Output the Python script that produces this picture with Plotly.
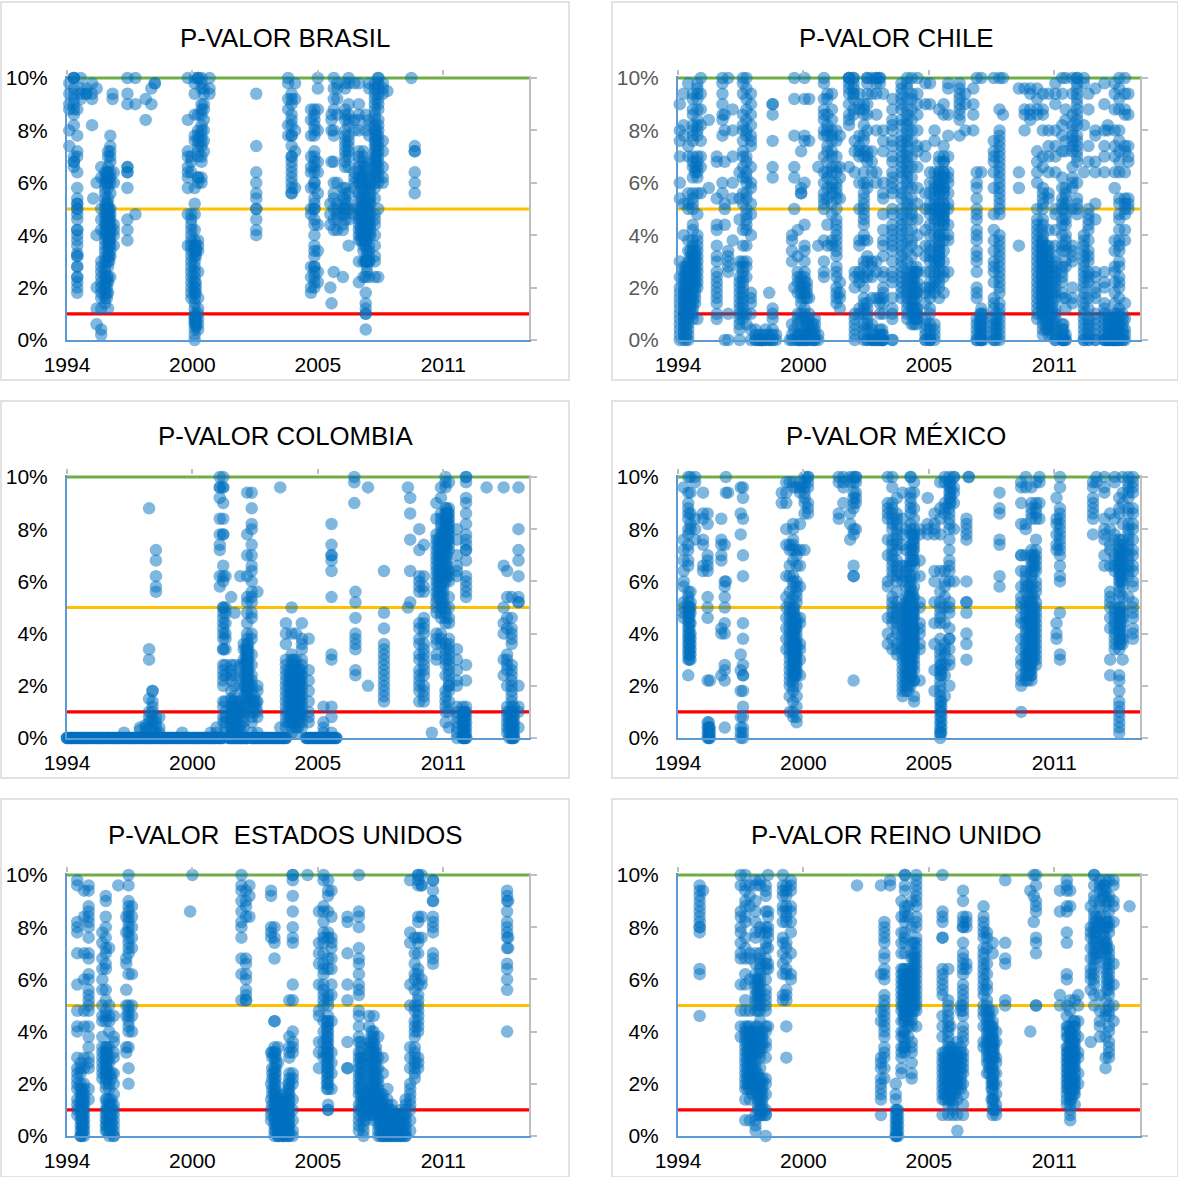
import plotly.graph_objects as go

TITLES = ["P-VALOR BRASIL", "P-VALOR CHILE", "P-VALOR COLOMBIA", "P-VALOR MÉXICO",
          "P-VALOR  ESTADOS UNIDOS", "P-VALOR REINO UNIDO"]
TICK_YEARS = [1994, 1999.5, 2005, 2010.5]
TICK_LABELS = ["1994", "2000", "2005", "2011"]
Y_TICKS = [0, 2, 4, 6, 8, 10]
Y_LABELS = ["0%", "2%", "4%", "6%", "8%", "10%"]
X_END = 2014.26
THRESHOLDS = [10, 5, 1]

BRASIL = [
 (1994.1,[9.8,9.4,9.0,8.8,8.0,7.4]),
 (1994.3,[10,10,10,9.6,9.4,9.2,9.0,8.8,8.6,8.2,7.0,6.8,6.8,6.6]),
 (1994.45,[8.8,7.8,7.2,7.0,6.4,5.8,5.4,5.2,5.2,5.0,5.0,4.8,4.6,4.2,4.2,4.0,3.8,3.6,3.3,3.2,3.2,2.8,2.8,2.4,2.4,2.2,2.0,1.8]),
 (1994.6,[10,9.6,9.4,9.2]),(1994.85,[9.6,9.4,9.4]),(1995.1,[9.8,9.4,9.2,8.2]),(1995.3,[9.6]),(1995.15,[5.4]),
 (1995.3,[0.6,1.2,2.0,4.0,6.0]),
 (1995.5,[0.4,0.2,1.2,1.6,1.8,2.0,2.2,2.4,2.6,2.8,3.0,4.2,4.6,5.0,6.2,6.6]),
 (1995.67,[1.4,1.6,1.8,2.0,2.2,2.4,2.6,2.8,3.0,3.2,3.4,3.6,3.8,4.0,4.2,4.4,4.6,4.8,5.0,5.2,5.4,5.6,5.8,6.0,6.2,6.4]),
 (1995.8,[1.2,1.8,2.2,2.4,2.8,3.0,3.2,3.4,3.6,3.8,4.0,4.2,4.4,4.6,4.8,5.0,5.2,5.4,5.8,6.0,6.2,6.4,6.6,7.0,7.2]),
 (1995.9,[2.4,3.2,3.4,3.6,3.8,4.0,4.2,4.4,4.6,4.8,5.0,5.6,6.0,6.2,6.4,6.8,7.0,7.2,7.4,7.8]),
 (1996.05,[3.6,4.0,4.2,4.4,6.0,6.4]),(1996.0,[9.2,9.4]),
 (1996.65,[3.8,4.2,4.6,5.8,6.4,6.4,6.6,6.6,9.0,9.4,10]),(1997.0,[4.8,9.0,10]),
 (1997.45,[8.4,9.2]),(1997.7,[9.6,9.0]),(1997.85,[9.8,9.8]),
 (1999.3,[3.6,4.8,5.8,6.2,6.4,6.6,7.0,7.2,8.4,10]),
 (1999.45,[1.6,1.8,2.0,2.2,2.4,2.6,2.8,3.0,3.2,3.4,3.6,3.8,4.0,4.2,4.4,4.6,4.8,6.4,6.8,7.0]),
 (1999.6,[0,0.2,0.4,0.6,0.7,0.8,0.9,1.0,1.2,1.4,1.6,1.8,2.0,2.2,2.4,2.6,2.8,3.0,3.2,3.4,3.6,3.8,4.2,4.8,5.2,5.8,7.6,7.8,10,9.8,9.4,8.6]),
 (1999.75,[0.4,0.6,0.8,1.0,1.2,1.6,2.6,3.4,3.6,3.8,6.0,6.2,6.2,7.0,7.2,7.4,7.6,7.8,8.0,8.6,10,10]),
 (1999.9,[6.0,6.2,6.8,7.0,7.4,7.6,7.8,8.0,8.2,8.6,8.8,9.0,9.6,9.8,10]),
 (2000.0,[7.2,7.6,8.0,8.4,8.8,9.0,9.6,9.4]),(2000.25,[9.4,9.6,10]),
 (2002.3,[9.4,7.4,6.4,6.0,5.6,5.4,5.0,5.0,4.6,4.2,4.0]),
 (2003.7,[8.8,9.2,9.8,10,8.2,7.8]),(2003.85,[9.4,9.2,9.0,8.6,8.4,8.2,7.8,7.8,7.4,7.0,7.0,6.8,6.6,6.4,6.2,6.0,5.8,5.6,5.6]),
 (2004.0,[9.8,9.2,8.0,7.2,5.8]),
 (2004.7,[8.8,8.4,7.8,7.0,6.6,6.4,5.8,5.0,4.8,2.8,2.4,2.0,1.8]),
 (2004.85,[8.8,8.6,8.4,8.2,8.0,7.8,7.2,7.0,6.8,6.6,6.4,6.0,6.0,5.8,5.4,5.2,5.0,5.0,4.6,4.4,4.0,3.6,3.4,3.2,2.8,2.8,2.6,2.4,2.2,2.0]),
 (2005.0,[10,9.6,8.8,8.0,6.8,6.4,5.6,4.4,3.4,2.6,2.2]),
 (2005.55,[5.2,4.8,4.4,2.0]),(2005.6,[6.8,8.0,8.4,8.6,1.4]),
 (2005.7,[10,9.6,9.2,8.8,8.0,7.8,6.8,6.0,5.6,5.4,5.0,4.6,4.2,2.6]),
 (2005.85,[9.8,9.6,9.2,8.6,6.0,5.2,5.0,4.8,4.6,4.2]),
 (2006.1,[5.8,5.4,5.0,4.8,4.4,4.2,2.4]),
 (2006.2,[9.8,9.6,8.8,8.6,8.4,8.0,7.8,7.6,7.4,7.2,7.0,6.8,6.6,5.8,5.6,5.4,5.2,5.0,4.8,4.6]),
 (2006.35,[10,9.8,9.0,8.6,8.4,8.2,7.8,7.6,7.4,7.2,7.0,6.6,5.6,5.2,5.0,4.6,3.6]),
 (2006.6,[9.8,8.4,8.0,6.4,6.2,6.0,5.8,5.0,4.8]),
 (2006.8,[9.8,9.0,8.6,8.4,8.0,7.2,7.0,6.8,6.6,6.4,6.2,6.0,5.6,5.4,5.0,4.8,4.6,4.4,4.2,4.0,3.8,3.0,2.2]),
 (2007.0,[7.2,7.0,6.8,6.6,6.4,6.2,6.0,5.8,5.6,5.4,5.2,5.0,4.8,4.6,4.4,4.2,4.0,3.8,3.6,3.4,3.0,2.4]),
 (2007.1,[8.6,8.0,6.6,6.4,5.8,5.4,5.2,5.0,4.8,4.6,4.4,4.2,4.0,3.8,3.6,3.0,3.0,2.4,1.8,1.4,1.2,1.0,1.0,0.4]),
 (2007.25,[9.8,9.6,8.4,8.2,7.8,6.8,6.2,5.8,5.4,5.2,5.0,4.8,4.6,4.4,4.0,3.6,3.4,3.2,3.0,3.0,2.4]),
 (2007.5,[9.8,9.6,9.4,9.2,9.0,8.8,8.6,8.4,8.2,8.0,7.8,7.6,7.4,7.2,7.0,6.8,6.6,6.4,6.2,6.0,5.8,5.4,4.8,4.6,4.4,4.0,3.6,3.2,3.0,2.4]),
 (2007.65,[10,10,9.8,9.6,9.4,9.2,9.0,8.8,8.4,8.2,8.0,7.8,7.6,7.4,7.2,7.0,6.8,6.6,6.4,6.2,6.0,5.0,2.4]),
 (2007.85,[9.8,9.6,9.4,7.6,7.2,6.6,6.2,6.0]),(2008.05,[9.5]),
 (2009.1,[10]),(2009.25,[7.4,7.2,7.2,6.4,6.0,5.6]),
]
BRASIL_EXTRA = [
 (1995.75,[4.0,4.2,4.4,4.6,4.8,5.0,5.2,6.0,6.2,6.4,1.6,1.8,2.0,2.2,2.4]),
 (1995.85,[3.6,3.8,4.0,4.2,4.4,4.6,4.8,5.0,3.0,3.2]),
 (1999.65,[0.5,0.6,0.7,0.8,0.9,2.0,2.2,1.8,3.2,3.4,3.6,3.4]),
 (2006.9,[5.0,5.2,5.4,4.8,4.6,4.4,4.2,4.0,3.8,6.0,6.2,5.8]),
 (2007.15,[5.2,5.0,4.8,4.6,4.4,4.2,4.0,3.8,3.4,3.2,3.0,3.0,2.8,2.6]),
 (2007.3,[6.2,6.0,5.8,5.6,5.4,5.2,4.8,4.4,4.2,4.0]),
 (2007.55,[8.0,7.8,7.6,7.4,7.2,7.0,6.8,6.6,6.4]),
]

CHILE = [
 (1994.08,[9.0,8.0,7.6,7.0,6.0,5.4,3.0,2.4,2.0,1.8,1.6,1.4,1.2,1.0,0.8,0.6,0.4,0.2,0]),
 (1994.25,[9.4,8.2,7.8,5.2,4.0,2.8,2.6,2.4,2.2,2.0,1.8,1.6,1.4,1.2,1.0,0.8,0.6,0.4,0.2,0]),
 (1994.45,[9.8,7.4,7.0,5.6,5.2,5.0,3.8,3.4,3.0,2.8,2.6,2.4,2.2,2.0,1.8,1.6,1.4,1.2,1.0,0.8,0.6,0.4,0.2,0]),
 (1994.65,[9.4,9.2,8.8,8.6,8.2,8.0,7.8,7.6,7.0,6.8,6.6,6.2,5.6,5.4,5.2,5.0,4.4,4.2,3.8,3.6,3.4,3.2,3.0,2.8,2.6,2.4,2.2,2.0,1.8,1.6,1.4,1.2,1.0,0.8]),
 (1994.85,[9.8,9.6,9.4,9.2,8.8,8.4,8.2,8.0,7.8,7.0,6.8,6.6,6.4,6.2,5.6,4.8,4.0,3.8,3.6,3.4,3.2,3.0,2.8,2.6,2.4,2.2,2.0,0.8]),
 (1995.0,[10,9.4,8.8,8.2,7.6,7.0,6.6,5.6]),(1995.35,[8.4,5.8]),(1995.7,[7.0,6.8,5.4,4.4,4.2,3.6,3.2,3.0,2.6,2.4,2.2,2.0,1.8,1.6,1.4,1.0,0.8]),
 (1995.95,[10,9.8,9.4,9.0,8.6,8.4,7.8,6.0,5.6]),(1996.05,[8.6,8.0,6.8,5.2,5.0,4.4,0]),(1996.2,[10,3.4,3.2,3.0,2.8,2.6,1.0,0]),
 (1996.4,[8.8,8.0,7.0,6.0,5.4,3.8]),(1996.7,[6.4,5.4,4.6,3.0,2.8,2.4,2.2,2.0,1.8,1.6,1.4,1.2,1.0,0.8,0.6,0.4,0]),
 (1996.85,[10,9.8,9.4,8.6,8.2,8.0,7.6,7.2,7.0,6.6,6.2,5.6,5.2,4.2,3.6,3.0,2.8,2.6,2.4,2.2,2.0,1.8,1.6,1.4,1.2,1.0,0.8]),
 (1997.0,[10,9.6,9.2,8.8,8.4,8.0,7.8,7.0,6.8,6.4,6.2,6.0,5.6,5.4,5.0,4.8,4.6,4.4,4.2,3.6,3.0,2.8,2.4,1.0,0.6]),
 (1997.2,[9.4,9.0,8.6,8.2,7.8,7.6,7.4,6.6,6.0,5.8,5.2,4.8,4.0,1.8,1.6,1.4,1.0,0.4,0]),
 (1997.4,[0,0,0.2,0.4]),(1997.55,[0,0,0.2]),(1997.7,[0,0,0.2]),(1997.85,[0,0,0.2,0.4]),(1998.0,[0,0,0.2,1.8]),
 (1998.15,[0,0,0.2,0.4,0.8,1.0,1.2,6.2,6.6,8.6,9.0,9.0,7.6]),(1998.3,[0,0.2]),
 (1998.9,[0]),(1999.0,[0,0.2,0.6,3.0,3.4,3.8,4.0]),(1999.1,[0,0.4,2.0,6.2,6.6,7.8,9.2,10,5.0]),
 (1999.25,[0,0.2,0.6,0.8,1.0,1.8,2.2,2.4,2.6,3.2,4.2]),(1999.4,[0,0,0.2,0.4,0.8,1.0,1.4,1.6,1.8,2.0,2.2,2.4,5.6,5.6,5.8,7.2]),
 (1999.55,[0,0,0.2,0.4,0.8,1.0,1.2,1.6,1.8,2.0,2.2,2.4,2.6,3.0,3.4,3.6,4.4,6.0,7.8,9.2,10,7.6]),
 (1999.75,[0,0.2,0.4,0.6,0.8,1.0,1.6,7.6,9.2]),(2000.0,[0,0,0.2,0.4,0.6,0.8]),(2000.15,[0,0.2,3.6,6.6]),
 (2000.4,[2.4,2.6,3.0,3.8,5.0,5.2,5.4,5.6,6.0,6.4,7.0,7.8,8.0,8.4,8.6,8.8,9.2,9.8,10]),
 (2000.55,[3.6,4.4,5.4,5.8,6.2,6.4,6.8,7.2,7.4,7.8,8.0,8.2,8.6,9.2,9.4]),
 (2000.75,[3.6,3.8,4.8,5.2,5.6,5.8,6.0,6.4,6.6,7.0,7.2,7.6,7.8,8.0,8.4,8.8,9.4]),
 (2000.95,[1.4,1.6,1.8,2.0,2.4,2.6,2.8,3.2,3.4,3.6,3.8,4.0,4.2,4.4,4.6,5.0,5.4,5.6,5.8,6.0,6.4,6.6,7.0,7.6,8.0]),
 (2001.1,[1.2,1.6,1.8,2.2,5.4,6.2,6.6,7.8]),(2001.5,[9.0,9.4,9.6,9.8,10,10,10,6.6,8.2,8.4,8.6]),
 (2001.7,[9.4,9.6,9.8,10,10,9.4,9.2,8.8,8.6]),(2001.75,[0,0.2,0.4,0.6,0.8,1.0,2.0,2.4,2.6,7.6,7.2,6.4]),
 (2001.95,[9.4,9.0,8.8,7.8,7.4,7.2,7.0,6.0,5.0,3.8,3.6,2.6,2.4,2.2,1.2,1.0]),
 (2002.15,[9.0,8.8,8.6,8.2,7.8,7.6,7.2,7.0,6.4,6.0,5.6,5.4,5.2,5.0,4.8,4.6,4.4,4.0,3.8,3.0,2.8,2.4,2.0,1.6,1.4,1.2,1.0,0.6,0.4,0.2,0]),
 (2002.3,[10,10,9.8,9.4,9.0,8.6,8.0,7.2,7.0,6.8,6.0,5.8,3.8,3.2,3.0,2.6,2.4,1.4,1.2,1.0,0.8,0.6,0.4,0,0]),
 (2002.5,[10,9.4,7.2,6.8,6.4,3.0,2.8,2.4,1.6,0.6,0.4,0,0]),(2002.7,[10,10,9.8,9.4,8.6,8.0,6.4,6.0,3.0,2.6,1.6,0,0,0.2]),
 (2002.85,[10,10,9.8,0,0,0.2,0.4,1.0,1.4,1.6]),(2003.0,[9.4,8.0,7.6,7.2,6.0,5.6,5.4,4.8,4.2,3.8,3.6,3.2,2.6,2.4,2.0,1.8,1.6,1.4,1.0,0,0,0.2]),
 (2003.4,[9.2,8.8,8.4,8.2,8.0,7.6,7.4,7.0,6.8,6.4,6.2,6.0,5.8,5.6,5.0,4.8,4.4,4.2,4.0,3.8,3.6,3.4,3.0,2.6,2.4,2.2,1.6,1.2,1.0,0.8,0,0]),
 (2003.8,[9.8,9.6,9.4,9.2,9.0,8.8,8.4,8.2,7.8,7.6,7.4,7.2,7.0,6.8,6.6,6.4,6.2,5.8,5.6,5.4,5.0,4.8,4.6,4.4,4.2,4.0,3.8,3.6,3.4,3.2,3.0,2.8,2.6,2.4,2.2,2.0,1.8,1.6]),
 (2004.05,[10,9.8,9.6,9.2,8.8,8.6,8.4,8.2,8.0,7.8,7.6,7.4,7.2,7.0,6.8,6.6,6.4,6.2,6.0,5.8,5.4,5.2,5.0,4.6,4.2,3.8,3.4,3.0,2.6,2.4,2.2,2.0,1.8,1.6,1.4,1.2,1.0,0.8]),
 (2004.25,[10,9.4,9.2,8.8,8.4,8.0,7.6,7.0,6.6,6.2,5.8,5.4,5.0,4.8,4.6,4.2,3.8,3.6,3.2,2.8,2.6,2.4,2.2,2.0,1.8,1.6,1.4,1.2,1.0,0.6]),
 (2004.5,[10,9.4,9.0,8.6,8.0,7.4,7.2,6.6,5.8,5.2,4.6,4.0,3.4,2.6,2.2,1.8,1.2,1.0,0.8]),(2004.85,[9.8,9.0,7.4,7.0,5.6,5.0,4.2,3.6,3.2,2.6,2.0,1.8,1.4,0.8,0.6,0.4,0.2,0,0]),
 (2005.05,[9.8,9.0,6.4,6.0,5.6,5.2,5.0,4.8,4.4,4.0,3.6,3.4,3.2,3.0,2.6,2.2,2.0,1.8,1.6,1.2,1.0,0.6,0.4,0.2,0,0,0]),
 (2005.25,[8.0,7.6,6.4,6.0,5.8,5.6,5.4,5.2,5.0,4.8,4.6,4.4,4.0,3.6,3.2,3.0,2.8,2.6,2.4,2.2,2.0,1.8,0.6,0.4,0.2,0]),
 (2005.45,[8.8,7.0,6.8,6.4,6.2,6.0,5.8,5.6,5.2,5.0,4.8,4.4,4.0,3.6,3.4,3.2,3.0,2.8,2.6,2.4,2.2,2.0,1.6]),
 (2005.65,[9.0,8.6,7.4,7.0,6.8,6.4,6.2,6.0,5.8,5.6,5.2,5.0,4.8,4.6,4.4,4.0,3.8,3.4,3.0,2.6,2.4,1.8]),
 (2005.85,[9.8,9.6,8.6,7.8,7.0,6.4,6.2,6.0,5.6,5.2,5.0,4.4,4.0,3.8,2.6]),
 (2006.35,[9.8,9.6,9.4,9.2,9.0,8.8,8.6,8.4,7.8]),(2006.6,[9.4,9.0,8.0]),
 (2006.95,[9.6,9.0,8.6,8.0]),
 (2007.1,[10,6.4,6.0,5.8,5.4,5.0,4.8,4.6,4.2,4.0,3.8,3.4,3.2,3.0,2.6,2.0,1.8,1.6,0.8,0.6,0.4,0.2,0,0]),
 (2007.3,[10,6.4,1.2,1.0,0.8,0.6,0.4,0.2,0,0,0]),(2007.85,[10,7.6,7.2,7.0,6.8,6.4,5.8,4.8,4.2,3.8,3.4,3.0,2.8,2.6,2.2,1.6,1.4,1.2,0.8,0.6,0.4,0.2,0,0]),
 (2008.1,[10,8.8,8.0,7.8,7.6,7.4,7.2,7.0,6.8,6.6,6.4,6.2,6.0,5.8,5.6,5.4,5.2,5.0,4.8,4.0,3.8,3.6,3.4,3.2,3.0,2.8,2.6,2.4,2.2,2.0,1.8,1.4,1.2,1.0,0.8,0.6,0.4,0.2,0]),
 (2008.25,[10,8.6]),(2008.95,[9.6,6.4,5.8,3.6]),(2009.2,[9.6,8.8,8.6,8.0]),
 (2009.45,[9.6,9.4,8.8,8.6,8.4]),(2009.75,[9.6,9.2,8.8,8.6,7.2,6.8,6.4,6.0,5.0,4.6,4.4,4.2,4.0,3.8,3.6,3.4,3.2,3.0,2.8,2.6,2.4,2.2,2.0,1.8,1.6,1.4,1.2,1.0,0.8]),
 (2010.0,[9.4,8.8,8.6,8.0,7.0,6.6,5.8,5.6,5.4,5.2,5.0,4.6,4.4,4.0,3.8,3.6,3.4,3.2,3.0,2.8,2.6,2.4,2.2,2.0,1.8,1.6,1.4,1.2,1.0,0.8,0.6,0.4,0.2]),
 (2010.25,[9.4,8.0,7.4,7.0,6.4,5.6,5.4,4.2,3.6,3.4,3.2,3.0,2.8,2.6,2.4,2.2,2.0,1.8,1.6,1.4,1.2,1.0,0.8,0.6,0.4,0.2]),
 (2010.55,[9.8,9.4,9.0,8.0,7.4,7.0,6.4,5.0,4.8,4.2,3.6,3.2,3.0,2.8,2.6,2.4,2.2,2.0,1.8,1.6,1.2,1.0,0.8,0.6,0.4,0.2,0,0]),
 (2010.85,[10,9.4,8.2,7.8,7.2,6.2,5.8,5.4,5.2,5.0,4.6,4.4,4.0,3.6,3.4,2.8,2.6,2.4,2.2,1.8,1.6,0.6,0.4,0.2,0,0]),
 (2011.0,[10,8.8,8.4,7.6,7.2,5.8,5.6,5.4,5.2,5.0,4.8,4.6,4.4,4.0,3.8,3.6,3.4,3.0,2.8,1.6,1.2,0.2,0,0]),
 (2011.3,[10,9.4,8.6,8.2,8.0,7.8,7.6,7.4,7.2,6.6,6.2,6.0,5.8,5.0,3.6,3.4,3.2,3.0,2.0,1.6,1.4]),
 (2011.5,[10,10,9.8,9.6,9.4,9.2,9.0,8.8,8.6,8.4,8.2,7.8,7.6,7.4,7.2,7.0,6.8,6.0,5.4,5.2,5.0,4.8]),
 (2011.8,[10,9.8,8.2,6.4,4.0,3.8,3.6,3.4,3.2,3.0,2.8,2.6,2.4,2.2,2.0,1.8,1.6,1.4,1.2,1.0,0.8,0.6,0.4,0.2,0,0]),
 (2012.0,[9.4,8.8,7.4,6.8,5.0,4.8,4.6,4.4,4.2,3.8,3.4,3.2,3.0,2.6,2.4,2.2,1.6,1.2,0.8,0.6,0.4,0.2,0,0]),
 (2012.3,[9.6,8.0,7.8,6.8,6.4,5.2,4.6,2.6,2.4,2.0,1.8,1.6,1.0,0.8,0.6,0.4,0.2,0,0]),
 (2012.7,[9.8,9.0,8.0,7.4,7.0,6.4,2.6,2.2,2.0,1.4,1.2,1.0,0.8,0.6,0.4,0.2,0,0,0]),
 (2012.85,[8.0,8.2,1.0,0.8,0.6,0.4,0.2,0,0,0]),(2013.15,[9.8,9.4,8.8,8.0,7.4,7.0,6.4,5.8,3.8,3.4,2.8,2.6,2.2,1.8,1.4,1.0,0.8,0.6,0.4,0.2,0,0,0]),
 (2013.35,[10,9.6,9.2,8.8,8.0,7.6,7.2,6.8,6.4,5.4,5.2,4.8,4.6,4.2,3.8,3.6,3.4,3.0,2.8,2.4,2.2,2.0,1.6,1.2,1.0,0.8,0.6,0.4,0.2,0,0]),
 (2013.6,[10,9.4,8.8,8.6,7.4,7.2,6.4,5.4,5.2,5.0,4.8,4.2,3.8,1.4,0.8,0.4,0.2,0]),(2013.75,[9.4,8.6,7.4,7.0,6.8,5.4,5.2,5.0]),
]
CHILE_EXTRA = [
 (1994.35,[2.8,2.6,2.4,2.2,2.0,1.8,1.6,1.4,1.2,1.0,0.8,0.6,0.4,0.2,0]),
 (1994.55,[2.8,2.6,2.4,2.2,2.0,1.8,1.6,1.4,1.2,1.0,3.0,3.2,3.4]),
 (1994.75,[2.8,2.6,2.4,2.2,2.0,1.8,1.6,1.4,3.0,3.2,3.4,6.6,6.4]),
 (1997.65,[0,0]),(1999.3,[0,0,0.2]),(1999.65,[0,0,0.2,0.4,0.6,0.8,1.6,1.8,2.0,2.2]),(1999.9,[0,0,0.2,0.4,0.6]),
 (2002.6,[0,0,0.2]),(2002.95,[0,0,0.2,0.4]),
 (2005.45,[6.4,6.2,6.0,5.8,5.6,5.2,5.0,4.8,4.6,4.2,4.0,3.8,3.6,3.4,3.2,3.0]),
 (2005.65,[6.8,6.4,6.2,5.8,5.6,5.2,5.0,4.8,4.6,4.4]),
 (2004.35,[1.0,0.8,1.2,1.4,1.6,1.8,2.0,2.2,2.4,2.6,0.6]),
 (2004.45,[2.0,1.8,1.6,1.2,1.0,0.8,0.6,2.6,2.8]),
 (2007.25,[1.0,0.8,0.6,0.4,0.2,0]),(2007.4,[1.0,0.8,0.6,0.4,0.2,0]),
 (2007.95,[1.0,0.8,0.6,0.4,0.2,0]),
 (2009.95,[4.2,3.8,3.6,3.4,3.2,3.0,2.8,2.6,2.4,2.2,2.0,1.8,1.6,1.4,1.2,1.0]),
 (2010.15,[3.6,3.4,3.2,3.0,2.8,2.6,2.4,2.2,2.0,1.8,1.6,1.4,1.2,1.0,0.8,0.6,0.4]),
 (2010.4,[2.8,2.6,2.4,2.2,2.0,1.8,1.6,1.4,1.2,1.0,0.8,0.6,0.4,0.2]),
 (2010.9,[0.6,0.4,0.2,0,0]),
 (2012.95,[0.8,0.6,0.4,0.2,0,0]),(2013.05,[0.6,0.4,0.2,0,0]),(2013.25,[0.8,0.6,0.4,0.2,0,0,1.0]),(2013.5,[1.0,0.8,0.6,0.4,0.2,0,0]),
]

COLOMBIA_ZERO_X = [1994.0,1994.1,1994.2,1994.3,1994.4,1994.5,1994.6,1994.7,1994.8,1994.9,1995.0,1995.1,1995.2,1995.3,1995.4,1995.5,1995.6,1995.7,1995.8,1995.9,
 1996.0,1996.1,1996.2,1996.3,1996.4,1996.5,1996.6,1996.7,1996.8,1996.9,1997.0,1997.1,1997.2,1997.3,1997.4,1997.5,1997.6,1997.7,1997.8,1997.9,
 1998.0,1998.1,1998.2,1998.3,1998.4,1998.5,1998.6,1998.7,1998.8,1998.9,1999.0,1999.1,1999.2,1999.3,1999.4,1999.5,1999.6,1999.7,1999.8,1999.9,
 2000.0,2000.1,2000.2,2000.3,2000.4,2000.5,2000.6,2000.7,2000.8,2001.1,2001.2,2001.3,2001.4,2001.5,2001.6,2001.7,2001.8,2001.9,
 2002.1,2002.2,2002.3,2002.4,2002.5,2002.6,2002.7,2002.8,2002.9,2003.0,2003.1,2003.2,2003.3,2003.4,2003.5,2003.6,
 2004.5,2004.6,2004.7,2004.8,2004.9,2005.0,2005.1,2005.2,2005.3,2005.4,2005.5,2005.6,2005.7,2005.8]
COLOMBIA_ZERO_REPEATS = 3
COLOMBIA = [
 (1996.5,[0.2]),(1997.2,[0.3,0.4]),(1997.45,[0.2,0.4,0.5]),(1997.6,[0.4,0.6,0.8,1.0,1.5,3.0,3.4,8.8]),
 (1997.75,[0.4,0.6,0.8,1.0,1.2,1.4,1.8,1.8]),(1997.9,[0.2,0.4,0.6,0.8,5.6,5.8,6.2,6.8,7.2]),(1998.05,[0.2,0.4,0.8]),
 (1999.05,[0.2]),(2000.3,[0.2]),(2000.55,[0.2,0.4]),
 (2000.7,[10,9.6,9.6,9.2,8.4,7.8,7.4,7.2,6.2,5.8]),
 (2000.85,[10,9.6,9.6,9.0,8.4,7.8,7.8,6.6,6.2,6.0,5.0,5.0,4.8,4.6,4.4,4.2,4.0,3.8,3.4,3.4,2.8,2.6,2.4,2.2,2.0,1.4,1.2,0.8,0.6]),
 (2000.95,[6.2,5.0,4.8,4.4,4.0,3.8,3.4,2.8,2.4,1.4,1.0,0.8,0.6,0.4,0.2]),
 (2001.2,[5.4,2.8,2.6,2.4,2.2,1.8,1.5,1.2,1.0,0.8,0.6,0.4,0.2]),(2001.35,[4.8,2.8,2.4,2.0,1.6,1.4,1.2,1.0,0.8,0.6,0.4,0.2,0]),
 (2001.6,[6.2,2.8,2.4,2.0,1.4,1.2,1.0,0.8,0.5,0.4,0.2,0]),(2001.75,[3.6,3.4,3.0,2.8,2.4,2.0,1.6,1.2,1.0,0.8,0.6,0.4]),
 (2001.9,[9.4,7.8,7.0,6.2,5.4,5.2,4.8,4.4,4.0,3.8,3.6,3.4,3.2,3.0,2.8,2.6,2.4,2.2,2.0,1.8,1.6,1.4]),
 (2002.1,[9.4,8.8,8.2,8.0,7.4,7.0,6.6,6.4,6.0,5.6,5.4,5.2,4.8,4.6,4.0,3.8,3.2,2.8,2.4,2.2,2.0,1.8,1.4,1.4,1.0,0.8,0.6,0.2]),
 (2002.35,[5.6,2.0,1.8,1.4,1.0,0.8,0.2]),(2003.35,[9.6,0.4]),
 (2003.6,[4.4,4.0,3.6,3.0,2.8,2.6,2.4,2.2,2.0,1.8,1.6,1.4,1.2,1.0,0.8,0.6,0.4]),
 (2003.85,[5.0,4.0,3.2,3.0,2.8,2.6,2.4,2.2,2.0,1.8,1.6,1.4,1.2,1.0,0.8,0.6,0.4,0.2]),
 (2004.05,[4.0,3.0,2.8,2.6,2.4,2.2,2.0,1.8,1.6,1.4,1.2,1.0,0.8,0.6,0.4,0.2]),
 (2004.3,[4.4,3.8,3.6,3.4,3.0,2.8,2.6,2.4,2.2,2.0,1.8,1.6,1.4,1.2,1.0,0.8,0.6,0.4]),
 (2004.6,[3.8,2.6,2.2,1.8,1.4,1.0,0.8,0.6]),
 (2005.25,[1.2,0.6,0.4,0.2]),(2005.6,[8.2,7.4,7.0,7.0,6.8,6.4,5.4,3.2,3.0,1.2,0.8,0.2]),
 (2006.6,[10,9.8,9.0]),(2006.65,[5.6,5.2,4.6,4.0,3.8,3.6,3.4,2.6,2.4]),(2007.2,[9.6,2.0]),
 (2007.9,[6.4,4.8,4.2,3.6,3.4,3.2,3.0,2.8,2.6,2.4,2.2,2.0,1.8,1.6,1.4]),
 (2008.95,[9.6,5.0]),(2009.05,[9.2,8.6,7.6,6.4,5.2]),(2009.45,[8.0,7.2,6.2,6.0,5.8,5.6,4.4,4.2,3.8,3.6,3.2,3.0,2.6,2.4,2.2,2.0,1.8,1.4]),
 (2009.65,[7.4,6.2,5.8,5.6,4.6,4.4,4.2,4.0,3.6,3.4,3.2,3.0,2.8,2.6,2.4,2.0,1.8,1.6,1.4]),(2010.0,[0.2]),
 (2010.2,[9.0,8.4,7.8,7.6,7.4,7.2,7.0,6.8,6.6,6.4,6.2,6.0,5.8,5.6,5.4,5.2,5.0,4.8,4.0,3.8,3.6,3.2,3.0]),
 (2010.4,[9.6,9.2,8.6,8.4,8.2,8.0,7.8,7.6,7.4,7.2,7.0,6.8,6.6,6.4,6.2,6.0,5.8,5.6,5.4,5.2,5.0,4.8,4.6,4.0,3.8,3.6]),
 (2010.6,[10,9.8,9.6,8.8,8.6,8.4,8.2,8.0,7.8,7.6,7.4,7.2,7.0,6.8,6.6,6.4,6.2,6.0,5.0,4.8,4.6,4.4,3.6,3.4,3.2,3.0,2.8,2.4,1.8,1.6,1.4,1.2,1.0,0.6]),
 (2010.75,[9.8,8.8,8.6,8.4,8.2,8.0,7.8,7.6,7.4,7.2,6.4,6.2,6.0,5.4,5.0,4.6,4.4,3.8,3.6,3.4,3.2,3.0,2.8,2.6,2.4,2.2,2.0,2.0,1.8,1.4,1.0,0.4]),
 (2011.1,[8.0,7.6,7.0,6.6,6.4,6.2,3.4,3.0,2.6,2.2,2.0,1.2,1.0,0.8,0.6,0.4,0.2,0]),
 (2011.35,[1.2,1.0,0.8,0.6,0.4,0.2,0,0]),(2011.5,[10,10,9.8,9.2,9.0,8.6,8.2,7.8,7.6,7.4,7.2,7.2,6.8,6.2,6.0,5.8,5.6,5.4,2.8,2.2,1.2,1.0,0.8,0.6,0.4,0.2,0,0]),
 (2012.4,[9.6]),(2013.15,[9.6,6.6,5.0,4.4,4.0,3.0,2.4]),(2013.3,[6.4,5.4,4.6,4.2,3.2,3.0,2.8,2.6,2.0,1.2,1.0,0.8,0.6,0.4,0.2]),
 (2013.5,[5.4,4.6,4.2,4.0,3.8,3.6,2.8,2.6,2.4,2.2,2.0,1.8,1.6,1.4,1.2,1.0,0.8,0.6,0.4,0.2,0,0]),
 (2013.8,[9.6,8.0,7.2,6.8,6.2,5.4,5.2,5.2,2.0,1.2,1.0,0.4]),
]
COLOMBIA_EXTRA = [
 (2001.25,[1.4,1.2,1.0,0.8,0.6,0.4,0.2]),(2001.45,[1.4,1.2,1.0,0.8,0.6,0.4,0.2]),
 (2001.85,[3.4,3.2,3.0,2.8,2.6,2.4,2.2,2.0,1.8,1.6,1.4,1.2,1.0]),(2001.95,[3.6,3.4,3.2,3.0,2.8,2.6,2.4,2.2,2.0,1.8]),
 (2002.2,[1.6,1.4,1.2,1.0]),(2002.3,[1.4,1.2]),
 (2003.75,[2.6,2.4,2.2,2.0,1.8,1.6,1.4,1.2,1.0,0.8,0.6]),(2003.95,[3.0,2.8,2.6,2.4,2.2,2.0,1.8,1.6,1.4,1.2,1.0,0.8,0.6]),
 (2004.15,[2.6,2.4,2.2,2.0,1.8,1.6,1.4,1.2,1.0,0.8,0.6,0.4]),(2004.2,[2.6,2.4,2.2,2.0,1.8,1.6,1.4,1.2,1.0,0.8]),
 (2010.3,[7.6,7.4,7.2,7.0,6.8,6.6,6.4,6.2,6.0,5.8,5.6,5.4]),(2010.5,[8.0,7.8,7.6,7.4,7.2,7.0,6.8,6.6,6.4,6.2,6.0,5.8,5.6,5.4,5.2,5.0]),
 (2010.65,[8.8,8.6,8.4,8.2,8.0,7.8,7.6,7.4,7.2,7.0,6.8,6.6,6.4,6.2]),(2010.7,[8.6,8.4,8.2,8.0,7.8,7.6]),
 (2011.4,[1.0,0.8,0.6,0.4,0.2,0,0]),(2011.45,[1.0,0.8,0.6,0.4,0.2,0]),
 (2013.4,[1.0,0.8,0.6,0.4,0.2,0]),(2013.55,[0.8,0.6,0.4,0.2,0]),(2013.6,[1.2,1.0,0.8,0.6,0.4,0.2,0,0]),
]

MEXICO = [
 (1994.25,[9.6,7.6,7.2,6.8,6.4,6.0,5.8,5.2,5.0,4.8,4.6]),(1994.45,[10,9.4,9.0,8.8,8.6,8.4,8.0,7.8,7.4,7.2,6.8,6.6,5.6,5.4,5.2,5.0,4.8,4.6,4.4,4.2,4.0,3.8,3.6,3.4,3.2,3.0,2.4]),
 (1994.55,[10,9.4,8.6,8.2,8.0,5.6,5.2,5.0,4.8,4.4,4.0,3.8,3.6,3.4,3.2,3.0]),(1994.75,[10,9.8,8.4,8.0,7.6]),(1995.1,[9.4,8.6,8.4,7.6,7.4,6.6,6.4]),
 (1995.3,[8.6,8.2,7.0,6.8,6.6,6.4,5.4,5.0,4.6,2.2,0.6,0.4,0.2,0]),(1995.35,[0.4,0.2,0,0.6]),(1995.4,[0.4,0.2,0,2.2]),
 (1995.9,[8.4,7.6,7.4,7.0,6.8,4.2,4.0,2.4]),(1996.05,[7.4,6.0,5.8,5.4,5.0,4.4,4.0,2.8,2.6,2.2,0.4]),(1996.1,[10,9.4,6.0]),(1996.2,[9.4]),
 (1996.75,[9.6,8.6,7.8,3.2,2.6,1.8,0.8,0.4,0.2,0]),(1996.85,[9.6,9.2,8.4,7.0,6.2,4.4,3.8,2.8,2.4,2.4,1.8,1.2,0.8,0.4,0.2,0]),
 (1998.55,[9.4,9.0]),(1998.75,[9.8,9.4,9.0,8.0,7.4,6.2,5.4,5.0,4.6,4.2,3.8,3.4]),
 (1998.9,[9.8,7.4,7.2,6.6,6.2,5.6,5.2,5.0,4.8,4.6,4.4,4.2,4.0,3.8,3.6,3.4,3.2,3.0,2.8,2.6,2.4,2.2,2.0,1.6,1.0]),
 (1999.05,[9.8,9.6,8.2,8.0,7.6,7.4,7.2,6.8,6.2,6.0,5.8,5.4,5.0,4.8,4.6,4.4,4.2,4.0,3.8,3.6,3.4,3.2,3.0,2.8,2.6,2.4,2.2,2.0,1.8,1.4,1.0,0.8]),
 (1999.2,[9.6,7.2,7.0,6.6,6.0,5.8,5.6,5.4,5.2,4.6,4.4,4.2,4.0,3.8,3.6,3.4,3.2,3.0,2.8,2.6,2.4,2.0,1.6,1.2,0.8,0.6]),
 (1999.35,[9.8,9.6,9.4,8.2,7.2,6.6,5.8,4.6,4.4,3.6,3.4,3.0,2.4]),(1999.55,[10,9.8,9.6,9.4,9.2,9.0,8.6,7.2]),
 (1999.7,[10,10,9.8,9.6,9.0,8.8,8.6]),
 (2001.05,[10,9.8,8.6,8.4]),(2001.25,[10,9.8,9.6,9.0]),(2001.55,[10,9.8,8.6,8.2,7.6]),(2001.7,[10,9.8,9.4,9.2,9.0,8.8,8.0,7.8,6.6,6.2,6.2,2.2]),(2001.8,[10,10,9.8,9.4,9.2,9.0,8.0]),
 (2003.2,[10,9.0,8.8,8.6,8.4,7.6,7.0,6.0,5.8,4.6,4.0,3.6]),
 (2003.4,[10,9.6,9.0,8.8,8.6,8.4,8.2,8.0,7.6,7.4,7.2,7.0,6.8,6.6,6.4,6.2,5.4,5.2,5.0,4.8,4.6,4.4,3.8,3.4]),
 (2003.6,[9.2,8.6,8.4,8.2,8.0,7.8,7.6,7.4,7.2,6.8,6.6,6.4,6.2,6.0,5.6,5.2,5.0,4.8,4.6,4.4,4.2,4.0,3.6,3.4,3.2]),
 (2003.85,[9.4,8.4,7.8,7.4,6.6,6.2,6.0,5.0,4.8,4.6,4.4,4.2,4.0,3.8,3.6,3.4,3.2,3.0,2.8,2.6,2.4,2.2,2.0,1.8,1.6]),
 (2004.0,[8.0,7.2,6.6,6.4,6.2,5.8,5.4,5.2,5.0,4.8,4.6,4.4,4.2,4.0,3.8,3.6,3.4,3.2,3.0,2.8,2.6,2.4,2.2,2.0,1.8]),
 (2004.2,[10,10,9.4,9.2,9.0,8.8,8.6,8.2,8.0,7.8,7.4,7.2,7.0,6.8,6.6,6.2,6.0,5.8,5.6,5.4,5.2,5.0,4.8,4.6,4.4,4.2,4.0,3.8,3.6,3.4,3.2,3.0,2.8,2.6,2.4,2.2,2.0]),
 (2004.35,[9.8,9.4,8.8,8.4,8.0,7.8,7.6,7.4,7.2,6.8,6.6,6.2,5.8,5.4,5.0,4.8,4.6,4.2,4.0,3.8,3.6,3.4,3.2,3.0,2.8,2.6,2.2,2.2,1.6,1.4]),
 (2004.6,[8.0,7.8,6.8,6.2,5.2,5.0,4.4,4.2,4.0,3.6,3.4,2.2]),(2004.95,[9.2,8.2,8.0,7.8]),
 (2005.25,[8.6,8.2,8.0,7.8,6.4,6.0,5.2,4.4,3.6,2.6,1.8]),(2005.5,[9.8,8.8,8.4,7.8,6.4,5.6,5.2,5.0,4.8,4.6,4.4,3.8,3.4,3.2,3.0,2.8,2.6,2.4,2.2,2.0,1.8,1.6,1.4,1.2,1.0,0.8,0.6,0.4,0.2,0.2,0]),
 (2005.7,[10,9.8,9.0,8.8,8.6,6.4,6.0,5.8,5.4,5.0,4.4,3.6,3.4,3.2,2.8,2.4,1.6]),
 (2005.9,[10,9.8,9.6,9.4,9.2,9.0,8.8,8.6,8.4,8.2,8.0,7.6,7.2,6.8,6.6,6.4,6.0,5.2,5.0,4.8,4.2,3.8,3.8,3.4,3.0,2.8,2.0]),
 (2006.1,[10,10,9.6,9.4,9.0,8.0,6.0]),
 (2006.65,[8.4,8.2,8.0,7.8,7.6,6.0,5.2,5.2,4.8,4.0,3.6,3.0]),(2006.75,[10,10]),
 (2008.1,[9.4,8.8,8.6,7.6,7.4,6.2,5.8]),
 (2009.05,[9.8,9.6,9.0,8.2,7.0,7.0,6.4,5.8,5.4,5.2,5.0,4.6,4.4,3.8,3.4,3.0,2.8,2.4,2.2,2.0,1.0]),
 (2009.25,[10,9.6,8.2,8.0,7.0,6.4,6.2,6.0,5.8,5.6,5.2,5.0,4.8,4.6,4.4,4.2,4.0,3.8,3.6,3.4,3.2,3.0,2.8,2.6,2.4,2.2]),
 (2009.5,[9.6,9.0,8.8,8.6,8.4,7.2,7.0,6.8,6.6,6.4,6.2,6.0,5.8,5.6,5.4,5.2,5.0,4.8,4.6,4.4,4.2,4.0,3.8,3.6,3.4,3.2,3.0,2.8,2.6,2.4,2.2]),
 (2009.7,[9.8,9.0,8.8,8.6,8.4,7.6,7.2,7.0,6.8,6.6,6.4,6.0,5.8,5.6,5.2,5.0,4.8,4.6,4.4,4.2,4.0,3.8,3.6,3.4,3.2,3.0,2.8]),
 (2009.85,[10,9.8,9.0,8.4]),
 (2010.6,[9.2,8.4,8.2,7.8,7.4,7.2,4.4,4.0,3.8]),(2010.75,[10,9.6,8.8,8.6,8.4,8.2,8.0,7.8,7.6,7.4,7.2,7.0,6.6,6.2,6.0,4.8,3.2,3.0]),
 (2012.2,[9.8,9.6,9.2,9.0,8.8,8.6,8.4,7.8]),(2012.35,[10,9.8]),(2012.7,[10,9.6,9.4,8.4,8.0,7.8,7.6,7.0,6.6]),
 (2012.95,[8.6,8.0,7.4,7.2,6.6,5.6,5.4,5.2,5.0,4.6,4.2,3.0,2.4]),
 (2013.15,[10,9.8,8.4,7.8,7.6,7.0,6.8,6.6,6.4,5.0,4.8,4.6,4.4,4.2,4.0,3.8,3.6,3.4]),
 (2013.35,[9.2,8.8,8.6,7.6,7.4,7.2,7.0,6.8,6.6,6.4,6.2,6.0,5.8,5.6,5.4,5.0,4.8,4.6,4.4,4.2,4.0,3.8,3.6,3.4,2.4,2.2,1.8,1.4,1.2,1.0,0.8,0.6,0.4,0.2]),
 (2013.5,[10,9.4,9.0,8.2,7.6,7.4,7.2,7.0,6.8,6.6,6.4,6.2,6.0,5.8,5.4,5.0,4.8,4.6,4.4,4.0,3.8,3.6,3.0]),
 (2013.75,[10,9.8,9.6,9.4,9.2,8.8,8.6,8.2,8.0,7.8,7.6,7.4,7.2,7.0,6.8,6.6,6.4,6.2,5.4]),
 (2013.95,[10,9.8,9.6,9.4,8.8,8.6,8.2,8.0,7.6,7.2,7.0,6.6,6.4,6.0,5.8,5.2,5.0,4.8,4.6,4.2,4.0,3.8]),
]
MEXICO_EXTRA = [
 (1994.5,[5.0,4.8,4.6,4.4,4.2,4.0,3.8,3.6,3.4,3.2,3.0]),(1995.35,[0.2,0.4,0]),
 (1999.1,[5.0,4.8,4.6,4.4,4.2,4.0,3.8,3.6,3.4,3.2,3.0,2.8,2.6,2.4]),(1999.15,[4.4,4.2,3.6,3.4,3.2,3.0,2.8,2.6,2.4]),
 (2004.1,[5.4,5.2,5.0,4.8,4.6,4.4,4.2,4.0,3.8,3.6,3.4,3.2,3.0,2.8,2.6,2.4,2.2,2.0,1.8]),
 (2004.15,[6.6,6.2,5.8,5.4,5.0,4.6,4.2,3.8,3.4,3.0,2.6]),(2004.25,[5.0,4.8,4.6,4.4,4.2,4.0,3.8,3.6,3.4,3.2,3.0,2.8,2.6,2.4]),
 (2004.3,[7.8,7.6,7.4,7.2,7.0,6.8,5.6,5.4,5.2,5.0,4.8,4.6,4.4,4.2,4.0,3.8,3.6,3.4]),
 (2005.55,[1.4,1.2,1.0,0.8,0.6,0.4,0.2,2.8,2.6,2.4]),
 (2005.95,[9.8,9.6,9.4,9.2,9.0]),
 (2009.35,[5.8,5.4,5.0,4.6,4.2,3.8,3.4,3.2,3.0,2.8,2.6,2.4,2.2]),(2009.45,[5.2,5.0,4.8,4.6,4.4,4.2,4.0,3.8,3.6,3.4,3.2,3.0,2.8,2.6,2.4]),
 (2009.6,[7.0,6.8,6.6,6.4,5.4,5.0,4.8,4.6,4.4,4.2,4.0,3.8,3.6,3.4,3.2,3.0]),
 (2013.4,[5.0,4.8,4.6,4.4,4.2,4.0,3.8,3.6,7.2,7.0,6.8,6.6,6.4,6.2,6.0]),
]

EEUU = [
 (1994.45,[9.8,9.6,8.2,8.0,7.8,7.0,5.8,4.8,4.2,4.0,3.0,2.6,2.4,2.2,2.0,1.8,1.4,1.2,1.0,0.8]),
 (1994.6,[2.8,2.6,2.4,2.0,1.8,1.6,1.4,1.2,1.0,0.8,0.6,0.4,0.2,0,0]),
 (1994.75,[9.4,8.4,7.0,6.0,4.8,4.2,3.0,2.6,2.0,1.8,1.6,1.4,1.2,1.0,0.8,0.6,0.4,0.2,0]),
 (1994.95,[9.6,9.4,8.8,8.6,8.4,8.2,8.0,7.6,7.0,6.8,6.2,6.0,5.6,5.4,5.2,5.0,4.8,4.2,3.8,3.4,3.0,2.8,2.6,1.8,1.4]),
 (1995.55,[7.8,7.4,6.8,6.4,6.0,5.6,5.0,4.6,4.4,3.8,3.4,3.2,3.0,2.8,2.6,2.4,2.2]),
 (1995.7,[9.2,9.0,8.4,8.0,7.6,7.2,7.0,6.6,6.4,5.6,5.2,4.8,4.6,4.4,3.4,3.2,3.0,2.8,2.6,2.4,2.2,2.0,1.8,1.4,1.0,0.8,0.6,0.4,0.2]),
 (1995.85,[7.2,5.0,4.6,4.4,4.0,3.4,3.0,2.8,2.4,2.0,1.8,1.4,1.2,1.0,0.8,0.6,0.4,0.2,0]),
 (1996.05,[4.6,3.8,3.6,3.2,3.0,2.4,2.0,1.6,1.2,1.0,0.8,0.6,0.4,0.2,0,0]),(1996.25,[9.6]),
 (1996.6,[8.4,7.8,6.6,6.8,5.6,5.0,4.6,3.4,3.2]),
 (1996.7,[10,9.6,9.0,8.8,8.6,8.4,8.2,8.0,7.8,7.6,7.4,7.2,7.0,6.2,5.0,4.8,4.6,4.4,4.2,4.0,3.4,2.6,2.0]),
 (1996.85,[8.8,8.4,8.0,7.6,7.2,6.2,5.0,4.6,4.0]),
 (1999.5,[10]),(1999.4,[8.6]),
 (2001.65,[10,9.6,9.4,9.0,8.6,8.2,8.0,7.6,6.8,6.2,5.2]),(2001.85,[9.4,9.0,8.8,8.4,6.8,6.6,6.2,6.0,5.6,5.4,5.2,5.2]),(2002.0,[9.6,9.2,8.4]),
 (2002.95,[3.2,2.0,1.4,1.0,0.8,0.6,9.4,9.2,8.0,7.8,7.6]),
 (2003.1,[8.0,7.6,7.4,6.8,4.4,4.4,3.4,3.2,3.0,2.6,2.4,2.2,2.0,1.8,1.6,1.4,1.2,1.0,0.8,0.6,0.4,0.2,0]),
 (2003.25,[3.4,2.8,1.6,1.4,1.2,1.0,0.8,0.6,0.4,0.2,0,0]),
 (2003.5,[1.6,1.4,1.2,1.0,0.8,0.6,0.4,0.2,0,0]),(2003.75,[5.2,3.8,3.4,3.2,3.0,2.4,2.2,2.0,1.8,1.6,1.4,1.2,1.0,0.8,0.6,0.4,0.2,0]),
 (2003.9,[10,10,9.8,9.2,8.6,8.0,7.6,7.4,5.8,5.2,4.0,3.6,3.4,3.2,2.4,2.2,2.0,1.4,1.0,0.6,0.2,0]),
 (2004.55,[10]),(2005.05,[8.6,7.4,7.0,6.6,5.8,4.8,4.6,3.6,3.2,2.6]),(2005.25,[10,9.8,8.8,8.6,8.2,7.8,7.6,7.4,7.0,6.6,6.4,6.2,5.8,5.6,5.4,5.2,5.0,4.4,4.0,3.6,3.2,3.0]),
 (2005.45,[9.8,9.4,9.2,8.6,7.8,7.6,6.8,6.4,5.4,5.2,5.0,4.6,4.4,4.2,4.0,3.8,3.6,3.4,3.2,3.0,2.8,2.6,2.4,2.2,2.0,1.8,1.2,1.0,1.0]),
 (2005.6,[9.4,8.4,7.6,7.4,7.2,6.8,6.4,5.8,5.4,4.4,3.2,2.8,2.4,1.8]),
 (2006.3,[8.2,8.4,7.0,5.8,5.2,3.6,2.6,2.6]),
 (2006.8,[10,8.6,8.4,8.0,7.2,6.8,6.6,6.2,5.8,5.6,5.4,4.8,4.6,4.2,3.8,3.6,3.2,3.0,2.8,2.6,2.4,2.2,2.0,1.8,1.6,1.2,1.0,0.8,0.6,0.4,0.2]),
 (2007.0,[3.0,2.8,2.4,2.0,1.6,1.4,1.2,1.0,0.8,0.6,0.4,0.2,0]),(2007.25,[4.6,4.2,3.6,3.4,3.2,2.8,2.4,2.0,1.8,1.6,1.4,1.2,1.0,0.8]),
 (2007.45,[4.6,4.0,3.8,3.6,3.4,3.2,3.0,2.8,2.6,2.4,2.2,2.0,1.8,1.6,1.4,1.2,1.0,0.8,0.6]),
 (2007.65,[3.8,3.0,2.6,2.2,2.0,1.8,1.6,1.4,1.2,1.0,0.8,0.6,0.4,0.2,0]),(2007.85,[3.0,2.4,1.6,1.4,1.2,1.0,0.8,0.6,0.4,0.2,0,0]),
 (2008.05,[1.8,1.4,1.2,1.0,0.8,0.6,0.4,0.2,0,0]),(2008.25,[1.2,1.0,0.8,0.6,0.4,0.2,0,0]),(2008.45,[0.8,0.6,0.4,0.2,0,0]),(2008.65,[1.0,0.8,0.6,0.4,0.2,0,0]),
 (2008.85,[1.4,1.2,1.0,0.8,0.6,0.4,0.2,0,0]),(2009.05,[9.8,7.8,7.4,5.8,5.0,3.4,3.0,2.6,2.0,1.8,1.6,1.4,1.2,1.0,0.6,0.2]),
 (2009.25,[7.6,7.0,6.6,6.2,6.0,5.6,5.0,4.8,4.4,4.2,4.0,3.8,3.4,3.2,3.0,2.8,2.6,2.4,2.2]),
 (2009.4,[10,10,9.8,9.6,8.4,8.2,7.6,7.4,7.0,6.4,6.2,5.8,5.4,5.2,5.0,4.8,4.6,4.4,4.2,4.0,3.0,2.8,2.6]),(2009.55,[10,9.6,9.6,8.4,7.6,6.0,5.8]),
 (2010.05,[9.8,9.8,9.4,9.0,9.0,8.4,8.2,8.0,7.8,7.0,6.8,6.6]),
 (2013.3,[9.4,9.2,9.0,8.6,8.2,8.0,7.8,7.6,7.2,6.6,6.4,6.0,5.6,4.0]),(2013.35,[9.0,7.6,7.2]),
]
EEUU_EXTRA = [
 (1994.65,[1.8,1.6,1.4,1.2,1.0,0.8,0.6,0.4,0.2,0]),(1994.7,[1.4,1.2,1.0,0.8,0.6,0.4,0.2]),
 (1995.75,[3.4,3.2,3.0,2.8,2.6,2.4,2.2,1.4,1.2,1.0,0.8,0.6,0.4,0.2]),(1995.95,[2.4,2.2,1.4,1.2,1.0,0.8,0.6,0.4,0.2]),
 (2003.0,[3.2,3.0,2.6,2.4,2.2,1.8,1.6,1.2]),(2003.15,[3.2,3.0,2.8,2.6,2.4,2.2,2.0,1.8,1.6,1.4,1.2,1.0,0.8,0.6,0.4,0.2]),
 (2003.3,[1.4,1.2,1.0,0.8,0.6,0.4,0.2,0]),(2003.45,[1.2,1.0,0.8,0.6,0.4,0.2,0]),(2003.65,[1.0,0.8,0.6,0.4,0.2,0]),(2003.7,[2.0,1.8,1.6,1.4,1.2,1.0,0.8,0.6,0.4,0.2,0]),
 (2005.4,[4.4,4.2,4.0,3.8,3.6,3.4,3.2,3.0,2.8,2.6,2.4,2.2,2.0,1.8]),
 (2006.9,[3.6,3.4,3.2,3.0,2.8,2.6,2.4,2.2,2.0,1.8,1.6,1.4,1.2,1.0]),(2007.1,[1.6,1.4,1.2,1.0,0.8,0.6]),
 (2007.35,[4.0,3.8,3.6,3.4,3.2,3.0,2.8,2.6,2.4,2.2,2.0,1.8,1.6,1.4,1.2,1.0]),(2007.55,[3.4,3.2,3.0,2.8,2.6,2.4,2.2,2.0,1.8,1.6,1.4,1.2,1.0,0.8]),
 (2007.75,[1.6,1.4,1.2,1.0,0.8,0.6,0.4,0.2,0]),(2007.95,[1.0,0.8,0.6,0.4,0.2,0]),(2008.15,[1.0,0.8,0.6,0.4,0.2,0]),(2008.35,[0.8,0.6,0.4,0.2,0]),(2008.55,[0.8,0.6,0.4,0.2,0]),(2008.75,[0.8,0.6,0.4,0.2,0]),
]

REINO_UNIDO = [
 (1994.95,[9.6,9.4,9.2,9.0,8.8,8.6,8.4,8.2,8.0,8.0,7.8,6.4,6.2,4.6]),(1995.1,[9.4]),
 (1996.75,[10,9.6,8.6,8.4,8.0,7.8,7.4,7.0,6.8,5.8,4.8,4.2,3.8]),
 (1996.95,[10,9.6,9.4,9.0,8.8,8.4,8.2,7.6,7.2,6.8,6.2,5.8,5.2,4.8,4.2,4.0,3.8,3.6,3.4,3.2,3.0,2.8,2.6,2.4,2.2,2.0,1.8,1.4,0.6]),
 (1997.15,[9.6,9.2,8.8,7.0,6.8,6.0,4.8,4.2,4.0,3.8,3.6,3.4,3.2,3.0,2.8,2.6,2.4,2.2,2.0,1.8,1.4,0.6]),
 (1997.4,[9.8,9.6,9.0,8.6,8.2,7.8,7.6,7.0,6.6,6.2,6.0,5.8,5.6,5.4,5.2,5.0,4.8,4.2,4.0,3.8,3.6,3.4,3.2,3.0,2.8,2.6,2.4,2.2,2.0,1.8,1.6,0.8,0.6,0.4,0.2]),
 (1997.6,[9.8,9.6,8.0,7.8,7.0,6.8,6.6,6.4,6.2,6.0,5.8,5.6,5.4,5.2,5.0,4.8,4.4,4.0,3.8,3.6,3.4,3.2,3.0,2.6,2.2,2.0,1.8,1.6,1.4,1.2,1.0,0.8,0.8]),
 (1997.85,[9.6,9.4,9.2,8.6,8.0,7.8,7.4,7.2,6.8,6.6,6.4,6.0,5.6,5.4,5.2,5.0,4.8,4.2,4.0,3.6,3.4,3.0,2.2,2.0,1.6,1.0,0.8,0.8,0]),
 (1997.95,[10,8.6,8.4,8.0,7.8,7.6,7.2,6.6,6.4,4.2]),
 (1998.6,[10,9.6,9.4,9.2,8.8,8.6,8.2,7.6,7.4,7.0,6.6,6.2,5.4,5.2]),
 (1998.75,[9.6,9.4,9.2,8.8,8.6,8.4,8.2,7.4,7.2,6.8,6.4,6.2,5.6,5.4,5.2,4.2,3.0]),
 (1998.95,[9.8,9.6,9.4,8.8,8.6,8.2,7.8,7.0,6.2,6.0]),
 (2001.85,[9.6]),
 (2002.9,[9.6,6.2,4.8,4.4,3.0,2.8,2.6,2.2,2.0,1.8,1.6,1.4,0.8]),(2003.05,[8.2,8.0,7.8,7.6,7.4,7.0,6.8,6.4,6.2,6.0,5.4,5.2,5.0,4.8,4.6,4.4,4.2,4.0,3.8,3.4,3.2,3.0,2.6,2.2]),
 (2003.3,[9.8,9.6]),(2003.55,[2.0,1.6,1.4,1.0,0.8,0.6,0.4,0.2,0,0]),(2003.65,[1.0,0.8,0.6,0.4,0.2,0]),
 (2003.8,[9.0,8.4,7.8,7.4,7.0,6.4,6.2,6.0,5.8,5.6,5.4,5.2,5.0,4.8,4.4,4.0,3.8,3.4,3.2,3.0,2.6,2.4]),
 (2003.95,[10,10,9.6,9.4,8.8,8.6,8.4,8.2,7.8,7.6,7.4,7.0,6.4,6.0,5.8,5.4,5.2,5.0,4.8,4.6,4.4,4.0,3.6,3.4,3.2]),
 (2004.25,[9.0,8.0,7.4,7.0,6.8,6.4,6.2,6.0,5.8,5.6,5.4,5.2,5.0,4.8,4.6,4.4,4.2,3.6,3.4,3.2,2.8,2.4,2.2]),
 (2004.45,[10,9.8,9.6,9.4,9.2,9.0,8.8,8.4,8.2,8.0,7.6,7.4,7.2,7.0,6.8,6.6,6.4,6.2,6.0,5.8,5.6,5.4,5.2,5.0,4.8,4.2]),
 (2005.6,[10,8.6,8.4,8.2,7.6,7.6,6.4,6.2,6.0,5.8,5.6,5.4,4.6,4.2,3.8,3.2,3.0,2.8,2.6,2.4,2.2,2.0,1.8,1.6,1.4,0.8]),
 (2005.85,[6.4,5.2,5.0,4.8,4.6,4.4,4.2,4.0,3.8,3.6,3.4,3.2,3.0,2.8,2.6,2.4,2.2,2.0,1.8,1.6,1.4,1.2,0.8]),
 (2006.05,[3.4,3.2,3.0,2.8,2.6,2.4,2.2,2.0,1.8,1.6,1.4,1.2,1.0,0.8]),(2006.25,[3.6,3.2,3.0,2.8,2.6,2.4,2.2,2.0,1.8,1.4,0.8,0.2]),
 (2006.5,[9.4,9.0,8.4,8.2,8.0,8.0,7.4,7.0,6.8,6.6,6.4,6.2,5.8,5.6,5.4,5.2,5.0,4.8,4.6,4.2,4.0,3.8,3.6,3.2,3.0,2.8,2.6,2.4,2.0,1.6,1.2,0.8]),
 (2006.65,[8.4,8.2,8.0,6.6,6.4]),(2007.4,[8.8,8.4,8.2,8.0,7.8,7.6,7.2,7.0,6.8,6.6,6.4,6.2,6.0,5.8,5.6,5.4,5.0,4.8,4.6,4.2,3.6,3.4]),
 (2007.55,[7.8,7.6,7.2,6.6,6.2,5.8,5.6,5.2,5.0,4.8,4.6,4.4,4.2,4.0,3.8,3.6,3.4,3.2,3.0,2.8,2.4]),
 (2007.8,[7.4,7.0,4.8,4.4,4.2,4.0,3.8,3.6,3.4,3.2,3.0,2.8,2.6,2.4,2.2,2.0,1.8,1.6,1.4,1.2,1.0,0.8]),
 (2007.95,[4.0,3.6,3.0,2.8,2.4,2.0,1.6,1.2,1.0,0.8]),(2008.35,[9.8,7.4,6.8,6.6,5.2,5.0]),
 (2009.45,[9.4,4.0]),(2009.6,[10,9.2,8.2]),(2009.7,[10,9.6,9.0,8.8,8.6,7.6,7.4,7.0,5.0,5.0]),
 (2010.75,[9.4,8.6,5.4,5.0]),(2011.05,[9.8,9.6,9.4,8.8,8.6,7.8,7.4,6.2,6.0,5.0,4.6,4.2,4.0,3.8,3.4,3.2,3.0,2.8,2.6,2.4,2.2,2.0,1.8,1.6,1.4,1.2]),
 (2011.2,[9.4,8.8,5.2,4.8,4.2,4.0,3.8,3.6,3.4,3.2,3.0,2.8,2.6,2.4,2.2,2.0,1.8,1.6,1.4,1.2,1.0,0.8,0.6]),
 (2011.4,[5.2,4.4,4.2,4.0,3.8,3.6,3.4,3.2,3.0,2.8,2.6,2.4,2.2,2.0,1.8,1.6,1.2]),(2011.55,[5.4,5.0,4.4,3.8,3.2,3.0,2.4,2.0]),
 (2012.1,[8.8,8.0,7.8,7.6,7.2,6.8,6.4,6.2,6.0,5.6,3.6]),(2012.25,[10,10,9.6,9.2,9.0,8.6,8.4,8.2,8.0,7.8,7.6,7.4,7.2,7.0,6.8,6.6,6.4,6.2,6.0,5.8,5.4,5.0]),
 (2012.5,[9.8,9.6,9.4,9.0,8.8,8.4,8.2,8.0,7.0,5.4,4.8,4.4,4.2,3.8]),
 (2012.75,[9.8,9.6,9.4,9.2,9.0,8.8,8.4,8.2,8.0,7.6,7.4,7.2,7.0,6.8,6.6,6.4,5.2,4.8,4.6,3.8,3.0,2.6]),
 (2012.9,[9.8,9.2,9.0,8.6,8.2,8.0,7.8,7.2,7.0,6.8,6.6,6.4,6.2,6.0,5.8,5.6,5.4,5.0,4.8,4.6,4.2,4.0,3.6,3.4,3.2,3.0]),
 (2013.1,[9.8,9.6,9.0,8.8,8.2,6.6,5.8,5.0,4.4]),(2013.8,[8.8]),
]
REINO_UNIDO_EXTRA = [
 (1997.05,[4.2,4.0,3.8,3.6,3.4,3.2,3.0,2.8,2.6,2.4,2.2,2.0,1.8]),(1997.25,[4.0,3.8,3.6,3.4,3.2,3.0,2.8,2.6,2.4,2.2,2.0,1.8,1.6]),
 (1997.5,[6.0,5.8,5.6,5.4,5.2,4.8,4.2,4.0,3.8,3.6,3.4,3.2,2.4,2.2,2.0,1.8,1.6,1.4,1.2,1.0]),(1997.7,[4.0,3.8,3.6,3.4,2.2,2.0,1.8,1.6,1.4,1.2,1.0,0.8]),
 (2003.6,[1.0,0.8,0.6,0.4,0.2,0]),(2003.9,[6.4,6.2,6.0,5.8,5.6,5.4,5.2,5.0,4.8,4.6,4.4,4.0,3.8,3.4]),(2004.1,[8.8,8.4,6.4,6.2,6.0,5.8,5.6,5.4,5.2,5.0,4.8,4.6,4.4,4.2,3.8]),(2004.35,[7.4,7.0,6.8,6.6,6.4,6.2,6.0,5.8,5.6,5.4,5.2,5.0,4.8]),
 (2005.7,[3.2,3.0,2.8,2.6,2.4,2.2,2.0,1.8,1.6,1.4]),(2005.95,[4.2,3.4,3.2,3.0,2.8,2.6,2.4,2.2,2.0,1.8,1.6,1.4]),(2006.15,[3.2,3.0,2.8,2.6,2.4,2.2,2.0,1.8,1.6]),(2006.4,[5.0,4.8,3.4,3.2,3.0,2.8,2.6,2.4,2.2,2.0,1.8]),
 (2007.65,[4.8,4.6,4.4,4.2,4.0,3.8,3.6,3.4,3.2,3.0,2.8,2.6,2.4]),(2007.75,[4.2,4.0,3.8,3.6,3.4,3.2,3.0,2.6,2.2,2.0,1.8,1.4]),(2007.85,[3.6,3.4,3.2,3.0,2.4,2.0,1.4,1.0]),
 (2011.1,[4.2,3.8,3.4,3.2,3.0,2.8,2.6,2.4,2.2,2.0,1.8]),(2011.25,[4.0,3.8,3.6,3.4,3.2,3.0,2.8,2.6,2.4,2.2,2.0,1.8,1.6,1.4]),(2011.35,[4.4,4.2,3.6,3.4,3.2,3.0,2.8,2.6,2.2,2.0,1.8,1.6]),
 (2012.35,[8.4,8.2,8.0,7.8,7.6,7.4,7.2,7.0,6.8]),(2012.65,[8.0,7.8,7.6,7.4,7.2,9.6,9.4,9.2]),(2012.8,[8.2,8.0,7.4,7.2,6.2,6.0,5.8,5.6]),
]

PANEL_POINTS = [BRASIL + BRASIL_EXTRA, CHILE + CHILE_EXTRA, COLOMBIA + COLOMBIA_EXTRA,
                MEXICO + MEXICO_EXTRA, EEUU + EEUU_EXTRA, REINO_UNIDO + REINO_UNIDO_EXTRA]
LINE_COLORS = ["#70AD47", "#FFC000", "#FF0000"]

W, H = 1178, 1177
PLOTS = [(67,529,78,340),(678,1140,78,340),(67,529,477,738),(678,1140,477,738),(67,529,875,1136),(678,1140,875,1136)]
CARDS = [(1,569,2,380),(612,1178,2,380),(1,569,401,778),(612,1178,401,778),(1,569,799,1177),(612,1178,799,1177)]
TITLE_Y = [38,38,436,436,835,835]
TITLE_X = [285,896,285,896,285,896]
YLAB = ["#000000","#595959","#000000","#000000","#000000","#000000"]
FONT = "Liberation Sans, Arial, sans-serif"
TOP_PAD = 2  # pixels above 10% kept inside the plot area so the green line is not clipped

fig = go.Figure()
layout = dict(width=W, height=H, margin=dict(l=0,r=0,t=0,b=0,autoexpand=False), paper_bgcolor="white", plot_bgcolor="rgba(0,0,0,0)",
              showlegend=False, shapes=[], annotations=[])
for i,(x0,x1,y0,y1) in enumerate(PLOTS):
    n = i*2+1
    a, b = n, n+1
    xa, ya = ("x" if a==1 else f"x{a}"), ("y" if a==1 else f"y{a}")
    xb, yb = f"x{b}", f"y{b}"
    y_top = 10 * (1 + TOP_PAD/(y1-y0))
    dx, dy = [x0/W, x1/W], [1-y1/H, 1-(y0-TOP_PAD)/H]
    axis_common = dict(range=[1994, X_END], tickvals=TICK_YEARS, domain=dx, showgrid=False, zeroline=False, automargin=False)
    layout["xaxis" if a==1 else f"xaxis{a}"] = dict(axis_common, ticktext=TICK_LABELS, anchor=ya, ticks="", showline=True, linecolor="#5B9BD5", linewidth=2,
        tickfont=dict(family=FONT,size=21,color="#000000"), ticklabelstandoff=5)
    layout["yaxis" if a==1 else f"yaxis{a}"] = dict(range=[0,y_top], tickvals=Y_TICKS, ticktext=Y_LABELS, domain=dy, anchor=xa, showgrid=False, zeroline=False, automargin=False,
        showline=True, linecolor="#5B9BD5", linewidth=2, ticks="", tickfont=dict(family=FONT,size=21,color=YLAB[i]), ticklabelstandoff=13)
    layout[f"xaxis{b}"] = dict(axis_common, overlaying=xa, anchor=yb, side="top", ticks="outside", ticklen=5, tickcolor="#BFBFBF", tickwidth=1.5,
        showticklabels=False, showline=False)
    layout[f"yaxis{b}"] = dict(range=[0,y_top], tickvals=Y_TICKS, domain=dy, overlaying=ya, anchor=xb, side="right", showgrid=False, zeroline=False, automargin=False,
        ticks="outside", ticklen=6, tickcolor="#BFBFBF", tickwidth=1.5, showticklabels=False, showline=True, linecolor="#BFBFBF", linewidth=2)
    fig.add_trace(go.Scatter(x=[None],y=[None],xaxis=xb,yaxis=yb,mode="markers",hoverinfo="skip"))
    for t,c in zip(THRESHOLDS, LINE_COLORS):
        fig.add_trace(go.Scatter(x=[1994,X_END],y=[t,t],xaxis=xa,yaxis=ya,mode="lines",line=dict(color=c,width=3.2),hoverinfo="skip",cliponaxis=False))
    xs, ys = [], []
    for cx, vals in PANEL_POINTS[i]:
        xs += [cx]*len(vals); ys += vals
    if i == 2:
        xs += COLOMBIA_ZERO_X*COLOMBIA_ZERO_REPEATS; ys += [0]*(len(COLOMBIA_ZERO_X)*COLOMBIA_ZERO_REPEATS)
    fig.add_trace(go.Scatter(x=xs,y=ys,xaxis=xa,yaxis=ya,mode="markers",cliponaxis=False,
        marker=dict(color="#0070C0",opacity=0.5,size=12.5,line=dict(width=0))))
    cx0,cx1,cy0,cy1 = CARDS[i]
    layout["shapes"].append(dict(type="rect",xref="paper",yref="paper",x0=cx0/W,x1=cx1/W,y0=1-cy1/H,y1=1-cy0/H,line=dict(color="#D9D9D9",width=1.5),layer="below"))
    layout["annotations"].append(dict(text=TITLES[i],xref="paper",yref="paper",x=TITLE_X[i]/W,y=1-TITLE_Y[i]/H,
        xanchor="center",yanchor="middle",showarrow=False,font=dict(family=FONT,size=25.8,color="#000000")))
fig.update_layout(**layout)
fig.write_html("out.html", config=dict(displayModeBar=False), post_script="document.body.style.margin='0';document.body.style.overflow='hidden';")
